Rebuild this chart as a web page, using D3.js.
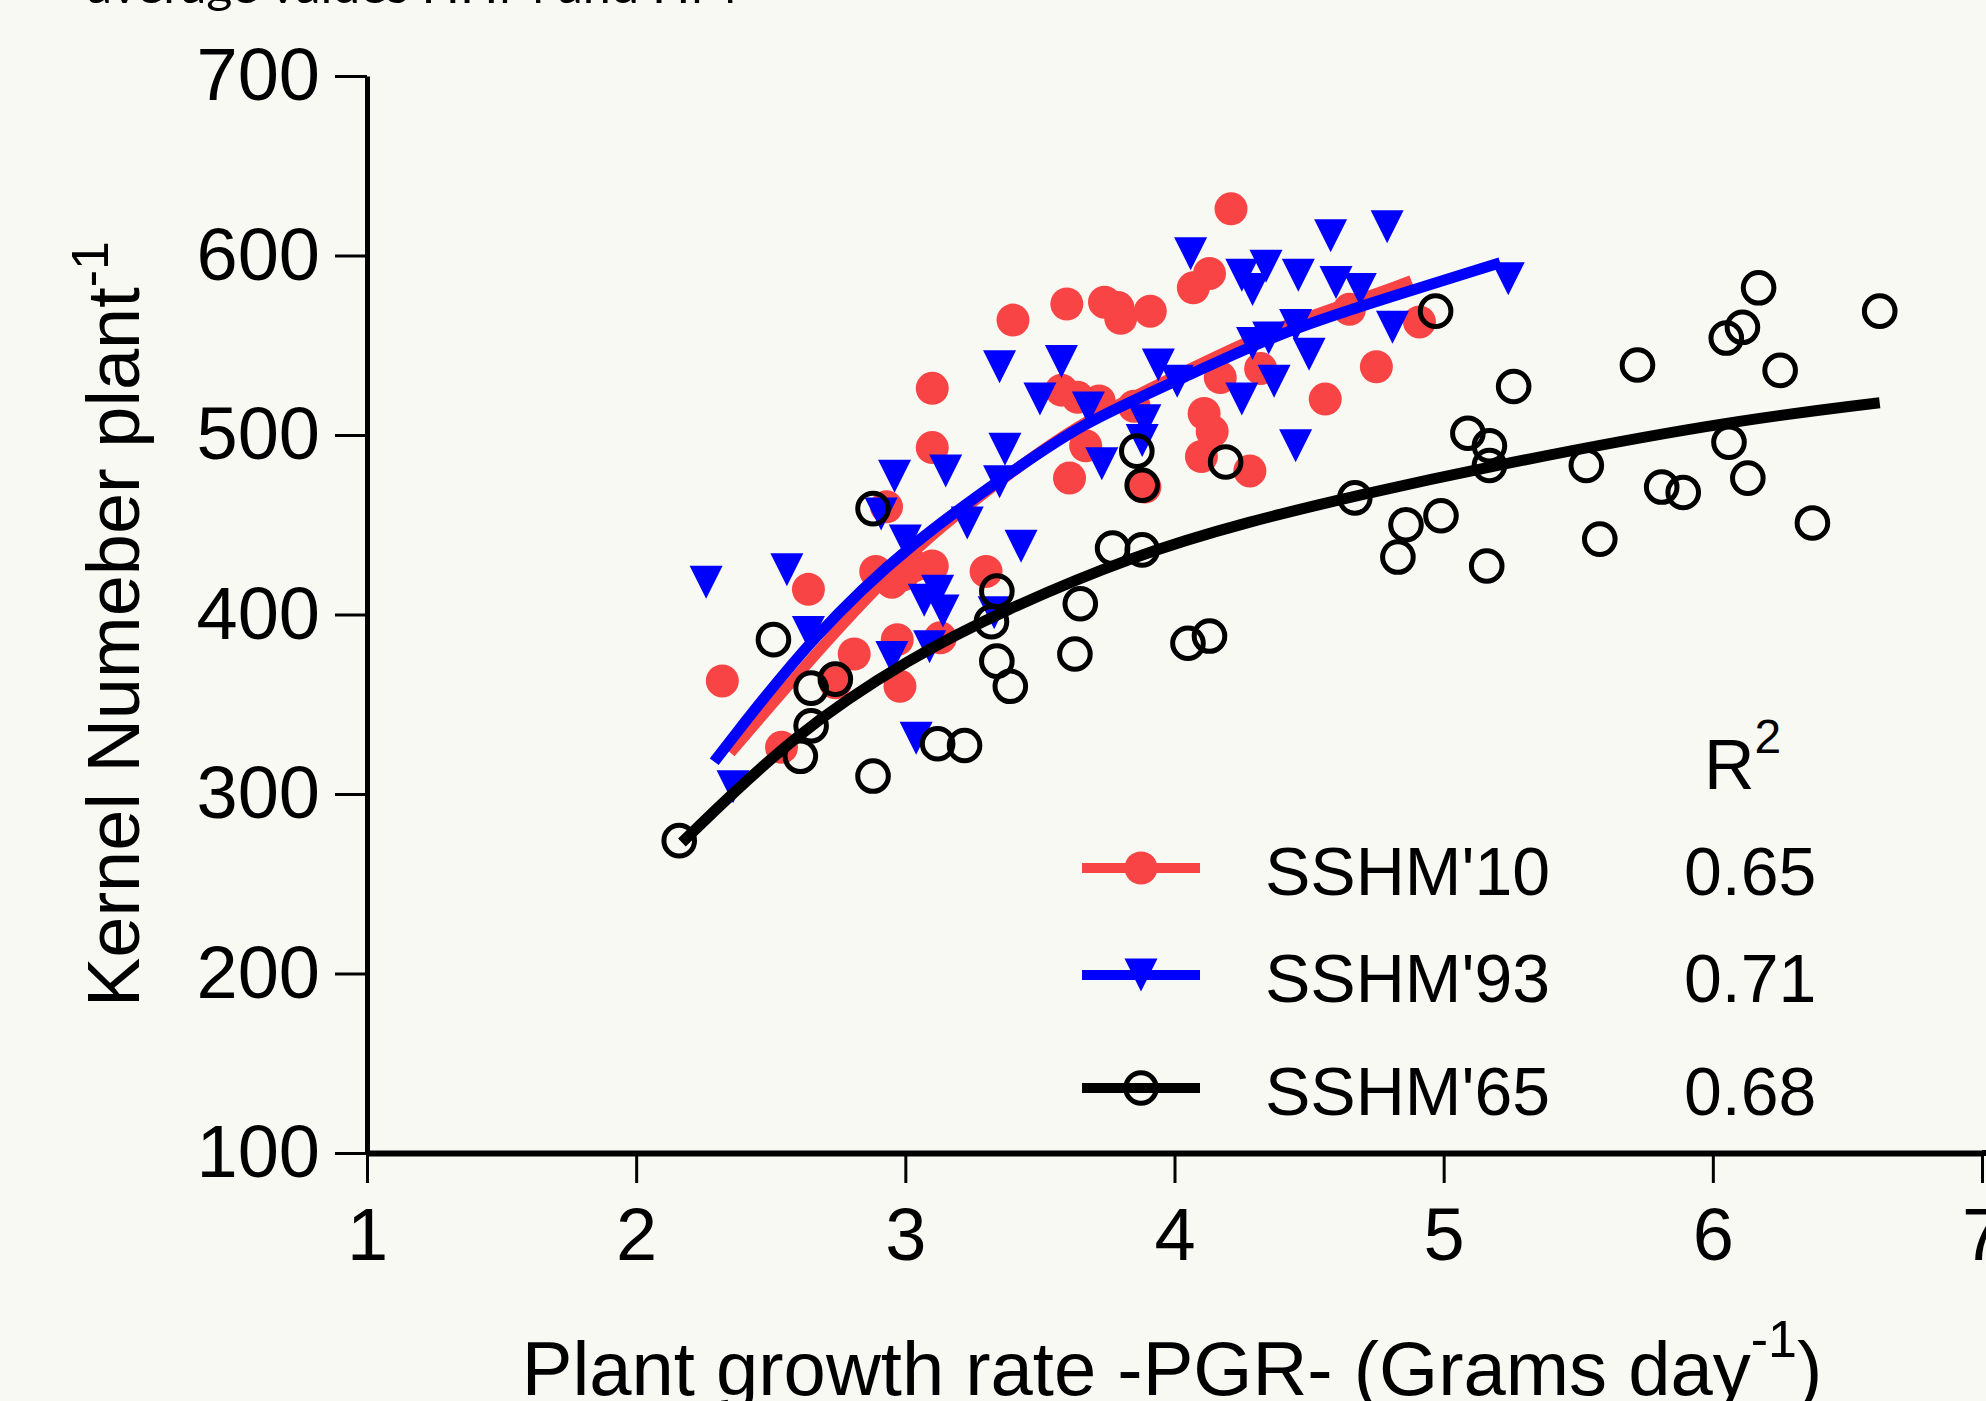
<!DOCTYPE html>
<html>
<head>
<meta charset="utf-8">
<script src="https://cdn.jsdelivr.net/npm/d3@7"></script>
<style>
  html, body { margin: 0; padding: 0; background: #f9f9f4; }
  svg { display: block; }
  text { font-family: "Liberation Sans", Arial, sans-serif; fill: #000; }
</style>
</head>
<body>
<script>
// ---------------- DATA ----------------
const xTicks = [1, 2, 3, 4, 5, 6, 7];
const yTicks = [100, 200, 300, 400, 500, 600, 700];

const seriesNames = ["SSHM'10", "SSHM'93", "SSHM'65"];
const r2Values = ["0.65", "0.71", "0.68"];

// SSHM'10 (red filled circles)
const pts10 = [
  [2.32,363],[2.54,326],[2.64,414],[2.74,362],[2.81,378],[2.89,424],[2.95,418],[2.99,422],
  [2.93,460],[2.97,386],[2.98,360],[3.03,427],[3.10,427],[3.10,493],[3.10,526],[3.13,387],
  [3.30,424],[3.40,564],[3.58,525],[3.60,573],[3.61,476],[3.64,521],[3.67,494],[3.72,519],
  [3.74,574],[3.79,571],[3.80,565],[3.85,516],[3.89,471],[3.91,569],[4.07,582],[4.10,488],
  [4.11,512],[4.13,590],[4.14,502],[4.17,532],[4.21,626],[4.28,480],[4.32,537],[4.56,520],
  [4.65,570],[4.75,538],[4.91,563]
];
// SSHM'93 (blue down triangles)
const pts93 = [
  [2.26,418],[2.36,304],[2.56,425],[2.64,390],[2.91,456],[2.95,376],[2.96,477],[3.00,441],
  [3.04,331],[3.07,408],[3.09,382],[3.12,413],[3.14,402],[3.15,480],[3.23,451],[3.33,401],
  [3.35,474],[3.35,538],[3.37,492],[3.43,438],[3.50,520],[3.58,541],[3.68,515],[3.73,484],
  [3.89,508],[3.88,497],[3.94,539],[4.01,530],[4.06,601],[4.25,589],[4.25,520],[4.29,581],
  [4.29,551],[4.35,554],[4.34,594],[4.37,530],[4.45,561],[4.45,494],[4.46,589],[4.50,545],
  [4.58,611],[4.60,585],[4.69,581],[4.79,616],[4.81,560],[5.24,587]
];
// SSHM'65 (black open circles)
const pts65 = [
  [2.16,274],[2.51,386],[2.61,321],[2.65,338],[2.65,359],[2.74,364],[2.88,310],[2.88,459],
  [3.12,328],[3.22,327],[3.32,396],[3.34,374],[3.34,413],[3.39,360],[3.63,378],[3.65,406],
  [3.77,437],[3.86,491],[3.88,436],[3.88,472],[4.05,384],[4.13,388],[4.19,485],[4.67,465],
  [4.83,432],[4.86,450],[4.97,569],[4.99,455],[5.09,501],[5.16,427],[5.17,494],[5.17,483],
  [5.26,527],[5.53,483],[5.58,442],[5.72,539],[5.81,471],[5.89,468],[6.05,554],[6.06,496],
  [6.11,560],[6.13,476],[6.17,582],[6.25,536],[6.37,451],[6.62,569]
];

// fitted curves
const fit10 = [[2.35,323],[2.71,386],[3.05,440],[3.40,480],[3.65,507],[4.02,534],[4.39,561],[4.76,579],[4.88,586]];
const fit93 = [[2.29,318],[2.32,324],[2.66,389],[3.03,441],[3.40,480],[3.65,506],[4.02,531],[4.39,557],[4.76,575],[5.21,596]];
const fit65 = [[2.17,273],[2.59,334],[3.02,376],[3.36,402],[3.85,433],[4.28,452],[4.67,466],[5.15,482],[6.02,507],[6.62,518]];

const colors = ["#f84444", "#0000ff", "#000000"];

// ---------------- LAYOUT ----------------
const W = 1986, H = 1401;
const svg = d3.select("body").append("svg").attr("width", W).attr("height", H);
svg.append("rect").attr("width", W).attr("height", H).attr("fill", "#f9f9f4");

const x = d3.scaleLinear().domain([1, 7]).range([367, 1982]);
const y = d3.scaleLinear().domain([100, 700]).range([1153, 76]);

// partial caption at the very top (cut off in the original)
svg.append("text").attr("x", 87).attr("y", 3)
  .attr("textLength", 650).attr("lengthAdjust", "spacingAndGlyphs")
  .style("font-family", "Lato, 'Open Sans', sans-serif").style("font-size", "46px")
  .text("average values HHM and HM");

// ---------------- AXES ----------------
const gy = svg.append("g").attr("transform", `translate(${x(1)},0)`)
  .call(d3.axisLeft(y).tickValues(yTicks).tickSize(32).tickSizeOuter(0).tickPadding(15));
gy.select(".domain").attr("stroke", "#000").attr("stroke-width", 5);
gy.selectAll(".tick line").attr("stroke", "#000").attr("stroke-width", 3);
gy.selectAll(".tick text").style("font-size", "74px").style("font-family", "'Liberation Sans', Arial, sans-serif").attr("fill", "#000");

const gx = svg.append("g").attr("transform", `translate(0,${y(100)})`)
  .call(d3.axisBottom(x).tickValues(xTicks).tickFormat(d3.format("d")).tickSize(30).tickSizeOuter(0).tickPadding(24));
gx.select(".domain").attr("stroke", "#000").attr("stroke-width", 6);
gx.selectAll(".tick line").attr("stroke", "#000").attr("stroke-width", 3);
gx.selectAll(".tick text").style("font-size", "74px").style("font-family", "'Liberation Sans', Arial, sans-serif").attr("fill", "#000");
svg.append("line").attr("x1", x(7)).attr("x2", W).attr("y1", y(100)).attr("y2", y(100))
  .attr("stroke", "#000").attr("stroke-width", 6);

// axis titles
const xt = svg.append("text").attr("x", 1172).attr("y", 1395).attr("text-anchor", "middle")
  .style("font-size", "76px");
xt.append("tspan").text("Plant growth rate -PGR- (Grams day");
xt.append("tspan").attr("dy", -38).style("font-size", "52px").text("-1");
xt.append("tspan").attr("dy", 38).text(")");

const yt = svg.append("text").attr("transform", "translate(139,624) rotate(-90)")
  .attr("text-anchor", "middle").style("font-size", "74px");
yt.append("tspan").text("Kernel Numeber plant");
yt.append("tspan").attr("dy", -31).style("font-size", "52px").text("-1");

// ---------------- MARKERS ----------------
const T = 16.5;
function triPath(cx, cy) {
  return `M${cx - T},${cy - T}L${cx + T},${cy - T}L${cx},${cy + T}Z`;
}
const line = d3.line().x(d => x(d[0])).y(d => y(d[1])).curve(d3.curveBasis);

// red
svg.append("g").selectAll("circle").data(pts10).join("circle")
  .attr("cx", d => x(d[0])).attr("cy", d => y(d[1])).attr("r", 16.5).attr("fill", colors[0]);
svg.append("path").datum(fit10).attr("d", line).attr("fill", "none")
  .attr("stroke", colors[0]).attr("stroke-width", 11);

// blue
svg.append("g").selectAll("path").data(pts93).join("path")
  .attr("d", d => triPath(x(d[0]), y(d[1]))).attr("fill", colors[1]);
svg.append("path").datum(fit93).attr("d", line).attr("fill", "none")
  .attr("stroke", colors[1]).attr("stroke-width", 11);

// black
svg.append("g").selectAll("circle").data(pts65).join("circle")
  .attr("cx", d => x(d[0])).attr("cy", d => y(d[1])).attr("r", 15.3)
  .attr("fill", "none").attr("stroke", colors[2]).attr("stroke-width", 5);
svg.append("path").datum(fit65).attr("d", line).attr("fill", "none")
  .attr("stroke", colors[2]).attr("stroke-width", 11);

// ---------------- LEGEND ----------------
const legY = [868, 975, 1088];
const lg = svg.append("g");
lg.append("text").attr("x", 1704).attr("y", 789).style("font-size", "70px")
  .call(t => { t.append("tspan").text("R"); t.append("tspan").attr("dy", -36).style("font-size", "48px").text("2"); });

seriesNames.forEach((name, i) => {
  const cy = legY[i];
  lg.append("line").attr("x1", 1082).attr("x2", 1200).attr("y1", cy).attr("y2", cy)
    .attr("stroke", colors[i]).attr("stroke-width", 10);
  if (i === 0) {
    lg.append("circle").attr("cx", 1141).attr("cy", cy).attr("r", 16.5).attr("fill", colors[0]);
  } else if (i === 1) {
    lg.append("path").attr("d", triPath(1141, cy)).attr("fill", colors[1]);
  } else {
    lg.append("circle").attr("cx", 1141).attr("cy", cy).attr("r", 15.3)
      .attr("fill", "none").attr("stroke", colors[2]).attr("stroke-width", 5);
  }
  lg.append("text").attr("x", 1265).attr("y", cy + 27).style("font-size", "68px").text(name);
  lg.append("text").attr("x", 1684).attr("y", cy + 27).style("font-size", "68px").text(r2Values[i]);
});
</script>
</body>
</html>
